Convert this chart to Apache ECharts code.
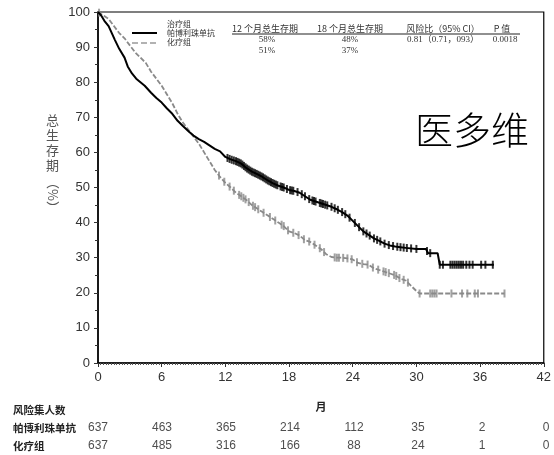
<!DOCTYPE html>
<html>
<head>
<meta charset="utf-8">
<script src="https://cdn.jsdelivr.net/npm/echarts@6/dist/echarts.min.js"></script>
<style>
  html, body { margin: 0; padding: 0; background: #fff; }
  #chart { width: 554px; height: 455px; }
</style>
</head>
<body>
<div id="chart"></div>
<script>
const pembroTimes = [0, 0.3, 0.6, 1, 1.3, 1.6, 2, 2.5, 2.8, 3.2, 3.6, 4, 4.4, 5, 5.5, 6, 6.5, 7, 7.5, 8, 8.6, 9, 9.5, 10, 10.5, 11, 11.5, 12, 12.5, 13, 13.5, 14, 14.5, 15, 15.5, 16, 16.5, 17, 17.5, 18, 18.5, 19, 19.5, 20, 20.5, 21, 21.5, 22, 22.5, 23, 23.5, 24, 24.5, 25, 25.5, 26, 26.5, 27, 27.5, 28, 28.5, 29, 30, 30.9, 31.1, 32, 32.2, 37.3];
const pembroSurv  = [100, 99, 97.5, 96, 94, 92, 89.5, 87, 84.5, 82.5, 81, 80, 79, 77, 75.5, 74.2, 72.5, 71, 69, 67.5, 65.8, 64.8, 63.8, 63, 62, 61, 60.3, 58.7, 58, 57.5, 56.8, 55.5, 54.5, 53.8, 53, 52, 51.2, 50.5, 50, 49.3, 49, 48.5, 47.5, 46.5, 46, 45.5, 45, 44.5, 43.8, 43, 42, 40.5, 39, 37.5, 36.5, 35.5, 34.8, 34, 33.5, 33.2, 33, 32.8, 32.5, 32.5, 31.3, 31.3, 28, 28];
const chemoTimes  = [0, 0.5, 1, 1.5, 2, 2.5, 3, 3.5, 4, 4.5, 5, 5.5, 6, 6.5, 7, 7.5, 8, 8.5, 9, 9.5, 10, 10.5, 11, 11.5, 12, 12.5, 13, 13.5, 14, 14.5, 15, 15.5, 16, 16.5, 17, 17.5, 18, 18.5, 19, 19.5, 20, 20.5, 21, 21.5, 22, 22.5, 23, 23.5, 24, 24.5, 25, 25.5, 26, 26.5, 27, 27.5, 28, 28.5, 29, 29.5, 30, 30.3, 38.3];
const chemoSurv   = [100, 99, 98, 96, 94, 92.5, 90.5, 88.5, 87, 85.5, 83, 81, 79, 76.5, 74, 71, 68.5, 66.5, 64.5, 62.5, 60, 57.5, 55, 53, 51.3, 50, 48.5, 47.5, 46.4, 45, 44, 43, 42, 41, 40, 39, 37.5, 37, 36.3, 35, 34.5, 33.5, 32.5, 31, 30.2, 30, 30, 29.8, 29.5, 28.5, 28.2, 28, 27, 26.5, 26, 25.5, 25, 24, 23.5, 22, 20.5, 19.8, 19.8];

// Zensierungen (Monate)
const pembroCensor = [12.2, 12.4, 12.6, 12.8, 13.0, 13.15, 13.3, 13.45, 13.6, 13.75, 13.9, 14.05, 14.2, 14.35, 14.5, 14.65, 14.8, 14.95, 15.1, 15.25, 15.4, 15.55, 15.7, 15.85, 16.0, 16.15, 16.3, 16.45, 16.6, 16.75, 16.9, 17.2, 17.35, 17.5, 17.8, 18.1, 18.25, 18.4, 18.8, 19.2, 19.5, 19.9, 20.2, 20.35, 20.5, 20.9, 21.05, 21.2, 21.4, 21.6, 22.0, 22.3, 22.6, 23.0, 23.3, 23.7, 24.2, 24.6, 25.0, 25.3, 25.6, 26.0, 26.3, 26.6, 27.0, 27.4, 27.8, 28.2, 28.5, 28.8, 29.1, 29.5, 30.0, 31.0, 31.3, 32.2, 32.5, 33.2, 33.4, 33.6, 33.8, 34.0, 34.2, 34.4, 34.7, 35.0, 35.3, 36.1, 36.5, 37.2];
const chemoCensor  = [0.1, 11.4, 11.9, 12.4, 12.8, 13.3, 13.5, 13.7, 13.9, 14.2, 14.6, 14.8, 15.1, 15.6, 16.2, 16.7, 17.3, 17.5, 17.9, 18.4, 18.9, 19.4, 19.9, 20.4, 20.9, 21.3, 22.3, 22.5, 22.7, 23.1, 23.5, 23.9, 24.4, 24.9, 25.4, 25.9, 26.4, 26.9, 27.1, 27.4, 27.9, 28.1, 28.4, 28.8, 29.2, 30.3, 31.3, 31.5, 31.7, 31.9, 33.3, 34.3, 34.8, 35.5, 35.8, 38.3];

// Risikotabelle
const riskMonths = [0, 6, 12, 18, 24, 30, 36, 42];
const riskPembro = [637, 463, 365, 214, 112, 35, 2, 0];
const riskChemo  = [637, 485, 316, 166, 88, 24, 1, 0];
const riskRows = ['帕博利珠单抗', '化疗组'];

const FONT = '"Liberation Sans", Arial, sans-serif';
const CJK = '"Noto Sans CJK SC", sans-serif';
const SERIF = '"Liberation Serif", "Noto Sans CJK SC", serif';

function pairs(ts, vs) { return ts.map((t, i) => [t, vs[i]]); }
// Wert der Kurve zum Zeitpunkt t (für Zensurmarken)
function survAt(ts, vs, t) {
  for (let i = 1; i < ts.length; i++) {
    if (t <= ts[i]) {
      const f = (t - ts[i - 1]) / (ts[i] - ts[i - 1]);
      return vs[i - 1] + f * (vs[i] - vs[i - 1]);
    }
  }
  return vs[vs.length - 1];
}

function headText(x, y, text, font) {
  return { type: 'text', x: x, y: y, style: { text: text, font: font, fill: '#333', align: 'center', verticalAlign: 'middle' } };
}

const chart = echarts.init(document.getElementById('chart'));

const option = {
  animation: false,
  backgroundColor: '#fff',
  grid: [
    { left: 98, right: 8, top: 12, bottom: 92, show: true, borderColor: '#000', borderWidth: 1.2 },
    { left: 98, right: 8, top: 419, height: 36 }
  ],
  xAxis: [
    {
      gridIndex: 0, type: 'value', min: 0, max: 42, interval: 6,
      name: '月', nameLocation: 'middle', nameGap: 38,
      nameTextStyle: { fontFamily: CJK, fontSize: 11, fontWeight: 'bold', color: '#222' },
      axisLine: { lineStyle: { color: '#000', width: 1.5 } },
      axisTick: { length: 4, lineStyle: { color: '#333' } },
      minorTick: { show: true, splitNumber: 24, length: 2, lineStyle: { color: '#555' } },
      axisLabel: { fontFamily: FONT, fontSize: 13, color: '#333', margin: 8 },
      splitLine: { show: false }
    },
    {
      gridIndex: 1, type: 'value', min: 0, max: 42, show: false
    }
  ],
  yAxis: [
    {
      gridIndex: 0, type: 'value', min: 0, max: 100, interval: 10,
      axisLine: { show: true, lineStyle: { color: '#000', width: 1.5 } },
      axisTick: { show: true, length: 4, lineStyle: { color: '#333' } },
      minorTick: { show: true, splitNumber: 2, length: 3, lineStyle: { color: '#333' } },
      axisLabel: { fontFamily: FONT, fontSize: 13, color: '#333', margin: 8 },
      splitLine: { show: false }
    },
    {
      gridIndex: 1, type: 'category', data: riskRows, inverse: true,
      axisLine: { show: false }, axisTick: { show: false },
      axisLabel: { align: 'left', margin: 85, fontFamily: CJK, fontSize: 10.5, fontWeight: 'bold', color: '#222' }
    }
  ],
  series: [
    {
      name: '化疗组', type: 'line', xAxisIndex: 0, yAxisIndex: 0,
      data: pairs(chemoTimes, chemoSurv), showSymbol: false,
      lineStyle: { color: '#8a8a8a', width: 1.8, type: [5, 2] }, z: 2
    },
    {
      name: '帕博利珠单抗', type: 'line', xAxisIndex: 0, yAxisIndex: 0,
      data: pairs(pembroTimes, pembroSurv), showSymbol: false,
      lineStyle: { color: '#000', width: 2 }, z: 3
    },
    {
      type: 'scatter', xAxisIndex: 0, yAxisIndex: 0, symbol: 'rect', symbolSize: [2, 8],
      itemStyle: { color: '#8a8a8a' }, silent: true, z: 2,
      data: chemoCensor.map(t => [t, survAt(chemoTimes, chemoSurv, t)])
    },
    {
      type: 'scatter', xAxisIndex: 0, yAxisIndex: 0, symbol: 'rect', symbolSize: [2, 8],
      itemStyle: { color: '#000' }, silent: true, z: 3,
      data: pembroCensor.map(t => [t, survAt(pembroTimes, pembroSurv, t)])
    },
    {
      type: 'scatter', xAxisIndex: 1, yAxisIndex: 1, symbolSize: 0, silent: true,
      data: riskMonths.map((m, i) => [m, riskRows[0], riskPembro[i]]),
      label: { show: true, position: 'inside', formatter: p => p.value[2], fontFamily: FONT, fontSize: 12, color: '#222' }
    },
    {
      type: 'scatter', xAxisIndex: 1, yAxisIndex: 1, symbolSize: 0, silent: true,
      data: riskMonths.map((m, i) => [m, riskRows[1], riskChemo[i]]),
      label: { show: true, position: 'inside', formatter: p => p.value[2], fontFamily: FONT, fontSize: 12, color: '#222' }
    }
  ],
  graphic: [
    // Y-Achsentitel
    { type: 'text', left: 46, top: 113, style: { text: '总\n生\n存\n期', font: '13px ' + CJK, fill: '#555', lineHeight: 15 } },
    { type: 'text', x: 59, y: 176, rotation: -Math.PI / 2, style: { text: '（%）', font: '13px ' + CJK, fill: '#555' } },
    // Wasserzeichen
    { type: 'text', left: 415, top: 111, style: { text: '医多维', font: '300 38px ' + CJK, fill: '#000' } },
    // Risikotabelle Überschrift
    { type: 'text', left: 13, top: 405, style: { text: '风险集人数', font: 'bold 10.5px ' + CJK, fill: '#222' } },
    // Legende
    { type: 'text', left: 167, top: 20, style: { text: '治疗组', font: '8px ' + CJK, fill: '#333' } },
    { type: 'line', shape: { x1: 132, y1: 33, x2: 157, y2: 33 }, style: { stroke: '#000', lineWidth: 2 } },
    { type: 'text', left: 167, top: 29, style: { text: '帕博利珠单抗', font: '8px ' + CJK, fill: '#333' } },
    { type: 'line', shape: { x1: 132, y1: 43, x2: 157, y2: 43 }, style: { stroke: '#999', lineWidth: 1.5, lineDash: [6, 3] } },
    { type: 'text', left: 167, top: 38, style: { text: '化疗组', font: '8px ' + CJK, fill: '#333' } },
    // Kennzahlen-Tabelle
    headText(265, 29, '12 个月总生存期', '9px ' + CJK),
    headText(350, 29, '18 个月总生存期', '9px ' + CJK),
    headText(443, 29, '风险比（95% CI）', '9px ' + CJK),
    headText(502, 29, 'P 值', '9px ' + CJK),
    { type: 'line', shape: { x1: 232, y1: 34, x2: 520, y2: 34 }, style: { stroke: '#222', lineWidth: 1.2 } },
    headText(267, 40, '58%', '9px ' + SERIF),
    headText(350, 40, '48%', '9px ' + SERIF),
    headText(443, 40, '0.81（0.71，093）', '9px ' + SERIF),
    headText(505, 40, '0.0018', '9px ' + SERIF),
    headText(267, 51, '51%', '9px ' + SERIF),
    headText(350, 51, '37%', '9px ' + SERIF)
  ]
};

chart.setOption(option);
</script>
</body>
</html>
